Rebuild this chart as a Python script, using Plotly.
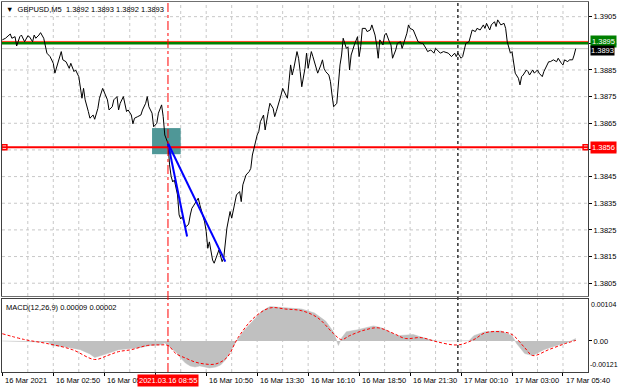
import plotly.graph_objects as go

# ---------------- data (M5 bars, index 0 = 16 Mar 2021 00:00) ----------------
bars = [0, 2, 5, 6, 8, 9, 11, 12, 14, 16, 17, 19, 20, 21, 23, 24, 26, 27, 28, 30,
        32, 33, 35, 36, 37, 38, 40, 42, 43, 45, 46, 48, 49, 50, 51, 52, 54, 55, 57, 58,
        60, 61, 63, 65, 66, 67, 69, 70, 72, 73, 74, 76, 78, 79, 81, 82, 83, 85, 87, 88,
        90, 91, 92, 94, 95, 97, 98, 100, 101, 102, 103, 104,
        105, 106, 107, 108, 110, 111, 112, 113, 114, 115, 116, 117, 118, 119, 120, 122,
        123, 124, 125, 126, 127, 128, 129, 130, 132, 133, 135, 136, 138, 139, 141, 142,
        143, 144, 146, 147, 149, 150, 151, 153, 155, 156, 157, 158, 160, 161, 162, 164,
        165, 167, 168, 170, 171, 172, 174, 175, 176, 178, 179, 180, 181, 182, 183, 185,
        186, 187, 188, 190, 191, 192, 194, 195, 197, 198, 200, 201, 202, 203, 205, 206,
        207, 208, 210, 211, 212, 213, 214, 216, 217, 218, 219, 221, 223, 224, 225, 226,
        228, 229, 231, 232, 234, 235, 236, 237, 239, 240, 241, 243, 244, 245,
        247, 248, 250, 251, 253, 254, 255, 256, 258, 260, 261, 263, 264, 266, 267, 269,
        271, 272, 274, 275, 277, 279, 280, 282, 283, 284, 285, 286, 288, 289, 290, 291,
        293, 294, 295, 297, 298, 300, 302, 303, 304, 306, 307, 309, 310, 311, 313, 315,
        316, 317, 318, 319, 320, 321, 322, 324, 325, 326, 327, 329, 330, 331, 333, 334,
        336, 337, 339, 340, 341, 343, 344, 346, 348, 349, 351, 352, 353, 355, 356, 358,
        359, 360]
close = [1.38963, 1.38969, 1.38985, 1.38969, 1.38975, 1.38940, 1.38975, 1.38981, 1.38956, 1.38978,
         1.38975, 1.38956, 1.38981, 1.38969, 1.38981, 1.38990, 1.38969, 1.38944, 1.38913, 1.38900,
         1.38875, 1.38838, 1.38875, 1.38894, 1.38919, 1.38888, 1.38881, 1.38856, 1.38875, 1.38844,
         1.38850, 1.38825, 1.38775, 1.38744, 1.38781, 1.38738, 1.38694, 1.38669, 1.38681, 1.38665,
         1.38706, 1.38744, 1.38781, 1.38756, 1.38738, 1.38700, 1.38712, 1.38738, 1.38750, 1.38700,
         1.38725, 1.38750, 1.38694, 1.38700, 1.38681, 1.38648, 1.38669, 1.38675, 1.38681, 1.38700,
         1.38725, 1.38750, 1.38712, 1.38688, 1.38637, 1.38650, 1.38688, 1.38719, 1.38675, 1.38606,
         1.38587, 1.38575,
         1.38494, 1.38450, 1.38430, 1.38437, 1.38381, 1.38306, 1.38291, 1.38299, 1.38280, 1.38262,
         1.38265, 1.38272, 1.38306, 1.38331, 1.38340, 1.38362, 1.38369, 1.38344, 1.38325, 1.38306,
         1.38280, 1.38244, 1.38181, 1.38205, 1.38137, 1.38125, 1.38156, 1.38175, 1.38131, 1.38144,
         1.38257, 1.38287, 1.38319, 1.38294, 1.38344, 1.38381, 1.38394, 1.38356, 1.38419, 1.38456,
         1.38469, 1.38481, 1.38531, 1.38556, 1.38606, 1.38619, 1.38656, 1.38681, 1.38625, 1.38694,
         1.38725, 1.38706, 1.38675, 1.38694, 1.38731, 1.38756, 1.38781, 1.38756, 1.38744, 1.38806,
         1.38869, 1.38831, 1.38856, 1.38919, 1.38894, 1.38844, 1.38787, 1.38856, 1.38913, 1.38856,
         1.38919, 1.38900, 1.38856, 1.38838, 1.38869, 1.38888, 1.38856, 1.38844, 1.38831, 1.38806,
         1.38756, 1.38712, 1.38725, 1.38806, 1.38869, 1.38906, 1.38969, 1.38931, 1.38937, 1.38850,
         1.38906, 1.38944, 1.38975, 1.38900, 1.38937, 1.39006, 1.39006, 1.38994, 1.39000, 1.39019,
         1.38981, 1.38944, 1.38894, 1.38963, 1.38944, 1.38981, 1.38988, 1.38956, 1.38944, 1.38894,
         1.38925, 1.38950, 1.38956, 1.38931, 1.38969, 1.38988, 1.39019, 1.39006, 1.39000, 1.38975,
         1.38956, 1.38950, 1.38950, 1.38931, 1.38919, 1.38925, 1.38913, 1.38931, 1.38919, 1.38913,
         1.38919, 1.38913, 1.38913, 1.38900, 1.38906, 1.38913, 1.38900, 1.38913, 1.38894, 1.38900,
         1.38925, 1.38950, 1.38956, 1.38975, 1.39000, 1.38994, 1.39006, 1.39000, 1.39019, 1.39006,
         1.39025, 1.39000, 1.39019, 1.39031, 1.39013, 1.39038, 1.39019, 1.39025, 1.39006, 1.38956,
         1.38931, 1.38913, 1.38919, 1.38875, 1.38838, 1.38819, 1.38794, 1.38825, 1.38831, 1.38850,
         1.38844, 1.38831, 1.38850, 1.38838, 1.38850, 1.38838, 1.38825, 1.38844, 1.38856, 1.38881,
         1.38881, 1.38888, 1.38881, 1.38894, 1.38875, 1.38869, 1.38888, 1.38881, 1.38888, 1.38888,
         1.38906, 1.38930]

macd_bars = [0, 18, 29, 31, 40, 49, 55, 58, 61, 66, 73, 86, 93, 99, 102, 106, 109, 112, 115, 118,
             121, 124, 127, 130, 134, 137, 140, 143, 147, 152, 159, 163, 168, 174, 181, 188, 196, 203,
             208, 211, 213, 216, 223, 233, 238, 248, 258, 268, 273, 293, 296, 303, 313, 320, 323,
             328, 333, 340, 348, 355, 360]
macd_hist = [0.0, -0.00002, -0.00004, -0.00016, -0.00021, -0.00031, -0.00046, -0.00059, -0.00054,
             -0.00045, -0.00031, -0.00024, -0.00016, -0.00014, -0.00007, -0.00024, -0.00039, -0.00061,
             -0.00079, -0.00089, -0.00093, -0.00089, -0.00093, -0.00096, -0.00093, -0.00086, -0.00068,
             -0.00039, 0.0, 0.00039, 0.00082, 0.00107, 0.00123, 0.00121, 0.00118, 0.00114, 0.00100,
             0.00071, 0.00032, -0.00016, 0.00011, 0.00033, 0.00040, 0.00054, 0.00047, 0.00019, 0.00023,
             0.00005, 0.0, 0.00001, 0.00019, 0.00033, 0.00036, 0.00019, -0.00010, -0.00045, -0.00052,
             -0.00031, -0.00016, -0.00005, 0.00009]
sig_bars = [0, 14, 29, 44, 58, 66, 73, 81, 91, 99, 104, 109, 115, 121, 127, 134, 141, 148, 158, 168,
            178, 188, 198, 208, 213, 218, 228, 236, 246, 253, 263, 273, 286, 296, 303, 313, 320, 328,
            333, 343, 353, 360]
sig_vals = [0.00026, 0.00005, -0.00010, -0.00031, -0.00066, -0.00052, -0.00038, -0.00031, -0.00016,
            -0.00014, -0.00016, -0.00045, -0.00061, -0.00075, -0.00082, -0.00082, -0.00059, 0.00012,
            0.00083, 0.00118, 0.00114, 0.00108, 0.00083, 0.00026, 0.00005, 0.00019, 0.00040, 0.00047,
            0.00026, 0.00009, 0.00012, -0.00003, -0.00014, 0.00005, 0.00029, 0.00033, 0.00023, -0.00024,
            -0.00052, -0.00031, -0.00010, 0.00002]

price_ticks = [1.3805, 1.3815, 1.3825, 1.3835, 1.3845, 1.3855, 1.3865, 1.3875, 1.3885, 1.3895, 1.3905]
time_tick_bars = [0, 32, 64, 96, 128, 160, 192, 224, 256, 288, 320, 352]
# the label at bar 96 is hidden under the cursor's date box in the reference
time_tick_text = ["16 Mar 2021", "16 Mar 02:50", "16 Mar 05:30", "", "16 Mar 10:50",
                  "16 Mar 13:30", "16 Mar 16:10", "16 Mar 18:50", "16 Mar 21:30", "17 Mar 00:10",
                  "17 Mar 03:00", "17 Mar 05:40"]
grid_bars = [16, 32, 48, 64, 80, 96, 112, 128, 144, 160, 176, 192, 208, 224, 240, 256, 272,
             288, 304, 320, 336, 352]

level_green = 1.3895
level_resist = 1.38957
level_bid = 1.3893
level_red = 1.3856
cursor_bar = 104
day_sep_bar = 286
box_bars = [94, 112]
box_prices = [1.38534, 1.38632]
trend1 = ([104, 116], [1.38575, 1.38225])
trend2 = ([104, 140], [1.38575, 1.38131])
macd_max_label = "0.00104"
macd_min_label = "-0.00121"

FONT = "Liberation Sans"
GRID = "#c8c8c8"
XR = [-0.2, 367.7]

fig = go.Figure()


def hline(level, color, width):
    fig.add_trace(go.Scatter(x=XR, y=[level, level], mode="lines", line=dict(color=color, width=width),
                             xaxis="x", yaxis="y", showlegend=False, hoverinfo="skip"))


# teal box
fig.add_trace(go.Scatter(x=[box_bars[0], box_bars[1], box_bars[1], box_bars[0], box_bars[0]],
                         y=[box_prices[0], box_prices[0], box_prices[1], box_prices[1], box_prices[0]],
                         mode="lines", fill="toself", fillcolor="#4f9797", line=dict(width=0, color="#4f9797"),
                         xaxis="x", yaxis="y", showlegend=False, hoverinfo="skip"))
hline(level_bid, "#c0c0c0", 1)
hline(level_green, "#008000", 2.5)
hline(level_resist, "#ff4020", 1)
hline(level_red, "#ff0000", 2)

fig.add_trace(go.Scatter(x=bars, y=close, mode="lines", line=dict(color="#000000", width=1),
                         xaxis="x", yaxis="y", showlegend=False, hoverinfo="skip"))
for tx, ty in (trend1, trend2):
    fig.add_trace(go.Scatter(x=tx, y=ty, mode="lines", line=dict(color="#0000ff", width=2),
                             xaxis="x", yaxis="y", showlegend=False, hoverinfo="skip"))
fig.add_trace(go.Scatter(x=[1.3, 366.2], y=[level_red, level_red], mode="markers",
                         marker=dict(symbol="square-open", size=5, color="#ff0000", line=dict(width=1.5)),
                         xaxis="x", yaxis="y", showlegend=False, hoverinfo="skip", cliponaxis=False))

fig.add_trace(go.Scatter(x=macd_bars, y=macd_hist, mode="lines", fill="tozeroy",
                         fillcolor="#c0c0c0", line=dict(color="#c0c0c0", width=0.5),
                         xaxis="x2", yaxis="y2", showlegend=False, hoverinfo="skip"))
fig.add_trace(go.Scatter(x=sig_bars, y=sig_vals, mode="lines", line=dict(color="#ff0000", width=1, dash="3px,2px"),
                         line_shape="spline", xaxis="x2", yaxis="y2", showlegend=False, hoverinfo="skip"))

shapes = []
for b in grid_bars:
    for yr in ("y domain", "y2 domain"):
        shapes.append(dict(type="line", xref="x", yref=yr, x0=b, x1=b, y0=0, y1=1,
                           line=dict(color=GRID, width=1, dash="3px,3px"), layer="below"))
for v in price_ticks:
    shapes.append(dict(type="line", xref="x domain", yref="y", x0=0, x1=1, y0=v, y1=v,
                       line=dict(color=GRID, width=1, dash="3px,3px"), layer="below"))
shapes.append(dict(type="line", xref="x", yref="paper", x0=cursor_bar, x1=cursor_bar, y0=0, y1=1,
                   line=dict(color="#ff0000", width=1, dash="dashdot")))
shapes.append(dict(type="line", xref="x", yref="paper", x0=day_sep_bar, x1=day_sep_bar, y0=0, y1=1,
                   line=dict(color="#303030", width=1.5, dash="dot"), layer="below"))

annotations = []
annotations.append(dict(xref="paper", yref="paper", x=0.004, y=1, xanchor="left", yanchor="top", yshift=-1,
                        text="▼  GBPUSD,M5  1.3892 1.3893 1.3892 1.3893", showarrow=False,
                        font=dict(family=FONT, size=7.5, color="#000000")))
annotations.append(dict(xref="paper", yref="y2 domain", x=0.004, y=1, xanchor="left", yanchor="top", yshift=-2,
                        text="MACD(12,26,9) 0.00009 0.00002", showarrow=False,
                        font=dict(family=FONT, size=7.5, color="#000000")))
for lvl, txt, bg, ys, pad in ((level_green, "1.3895", "#008000", 2, 1), (level_bid, "1.3893", "#000000", -2, 0),
                              (level_red, "1.3856", "#ff0000", 0, 1)):
    annotations.append(dict(xref="paper", yref="y", x=1, y=lvl, xanchor="left", yanchor="middle", xshift=2,
                            yshift=ys, text=txt, showarrow=False, bgcolor=bg, borderpad=pad,
                            font=dict(family=FONT, size=7.5, color="#ffffff")))
annotations.append(dict(xref="paper", yref="y2 domain", x=1, y=0.93, xanchor="left", yanchor="middle", xshift=1,
                        text=macd_max_label, showarrow=False, font=dict(family=FONT, size=7, color="#000000")))
annotations.append(dict(xref="paper", yref="y2 domain", x=1, y=0.1, xanchor="left", yanchor="middle", xshift=0,
                        text=macd_min_label, showarrow=False, font=dict(family=FONT, size=7, color="#000000")))
for b, t in zip(time_tick_bars, time_tick_text):
    if t:
        annotations.append(dict(xref="x2", yref="paper", x=b, y=0, xanchor="left", yanchor="top", yshift=-2,
                                xshift=1, text=t, showarrow=False,
                                font=dict(family=FONT, size=7.5, color="#000000")))
annotations.append(dict(xref="x2", yref="paper", x=cursor_bar, y=0, xanchor="center", yanchor="top", yshift=-2,
                        text="2021.03.16 08:55", showarrow=False, bgcolor="#ff0000", borderpad=1,
                        font=dict(family=FONT, size=7.5, color="#ffffff")))

fig.update_layout(
    width=620, height=388, margin=dict(l=2, r=32, t=2, b=16),
    paper_bgcolor="#ffffff", plot_bgcolor="#ffffff", showlegend=False, hovermode=False,
    shapes=shapes, annotations=annotations,
    xaxis=dict(domain=[0, 1], range=XR, anchor="y", showticklabels=False, ticks="", showgrid=False,
               showline=True, linecolor="#707070", linewidth=1, mirror=True, zeroline=False),
    yaxis=dict(domain=[0.2054, 1], range=[1.38002, 1.39105], side="right", tickvals=price_ticks,
               ticktext=[f"{v:.4f}" for v in price_ticks], ticks="outside", ticklen=3, tickcolor="#000000",
               tickfont=dict(family=FONT, size=7.5, color="#000000"), showgrid=False,
               showline=True, linecolor="#404040", linewidth=1, mirror=True, zeroline=False),
    xaxis2=dict(domain=[0, 1], range=XR, anchor="y2", tickvals=time_tick_bars, showticklabels=False,
                ticks="outside", ticklen=3, tickcolor="#000000", showgrid=False,
                showline=True, linecolor="#404040", linewidth=1, mirror=True, zeroline=False),
    yaxis2=dict(domain=[0, 0.1973], range=[-0.001107, 0.0015], side="right", tickvals=[0], ticktext=["0.00"],
                ticks="outside", ticklen=3, tickcolor="#000000",
                tickfont=dict(family=FONT, size=7.5, color="#000000"), showgrid=False,
                showline=True, linecolor="#404040", linewidth=1, mirror=True, zeroline=False),
)

fig.write_html("out.html", config={"displayModeBar": False, "staticPlot": True},
               post_script="document.body.style.margin='0px';document.body.style.overflow='hidden';")
